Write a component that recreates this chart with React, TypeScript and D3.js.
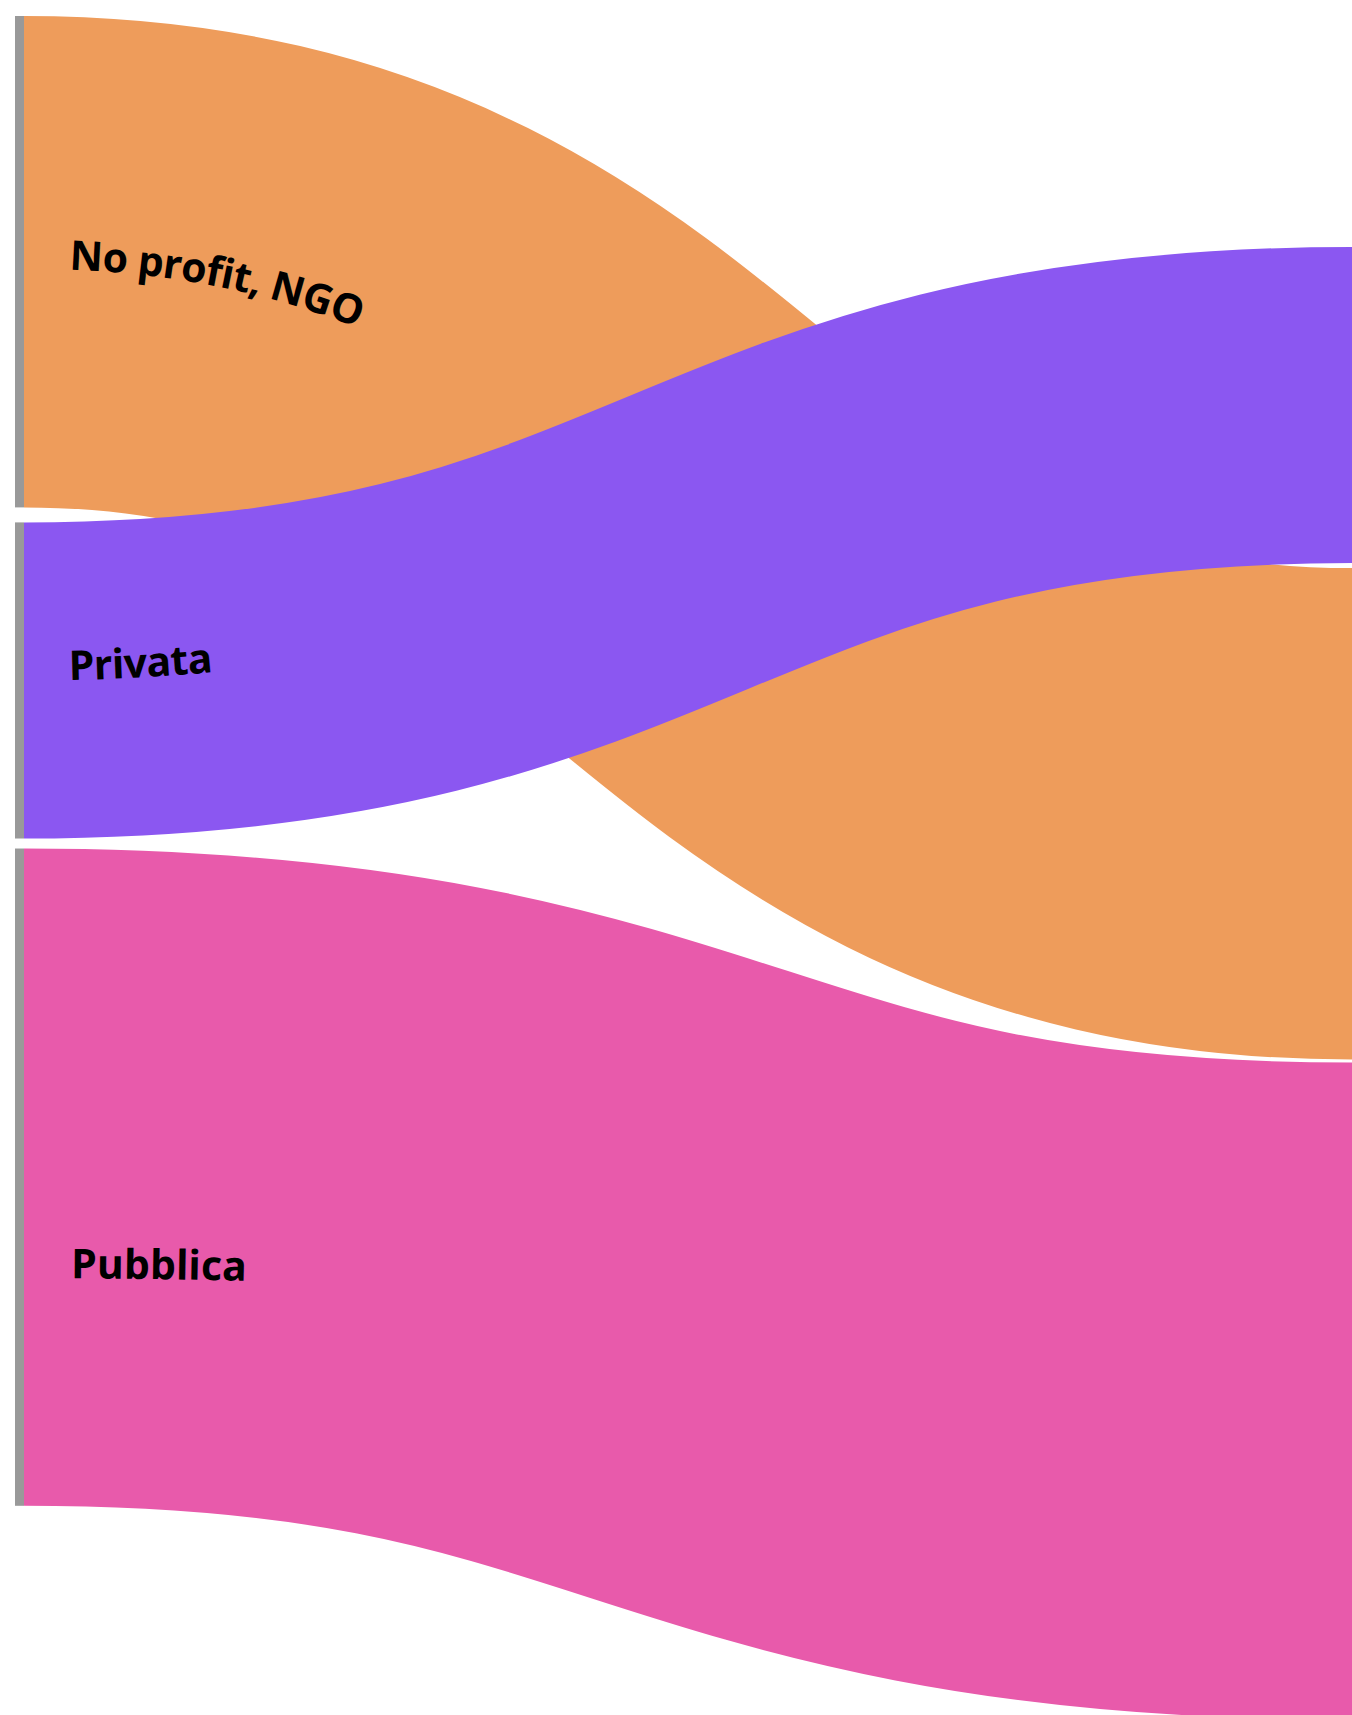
import React from "react";
import * as d3 from "d3";

// ─── Data ─────────────────────────────────────────────────────────────────────
const SOURCES = ["No profit, NGO", "Privata", "Pubblica"];
const VALUES = [157, 101, 210];
// order of the target nodes in the right column (index into SOURCES)
const TARGET_ORDER = [1, 0, 2];
const COLORS = ["#EE9C5B", "#8B57F1", "#E85AAB"];

// ─── Layout tokens ────────────────────────────────────────────────────────────
const WIDTH = 1352;
const HEIGHT = 1715;
const LEFT_X = 15;
const RIGHT_X = 1352;
const NODE_W = 9;
const LEFT_TOP = 16;
const RIGHT_TOP = 247;
const LEFT_GAPS = [15, 10];
const RIGHT_GAPS = [5, 3];
const NODE_FILL = "#999999";
const LABEL_OFFSET = [45, 45, 47];
const LABEL_DY = [7, 0, 101];
const LABEL_BEND = [1, 1, 0.3];
const LABEL_SPACING = [-0.6, -0.5, 0];
const FONT = "'Open Sans', 'Noto Sans', sans-serif";

type Node = { i: number; y0: number; y1: number };

function stack(order: number[], top: number, gaps: number[], h: d3.ScaleLinear<number, number>) {
  const out: Node[] = [];
  let y = top;
  order.forEach((i, k) => {
    const y1 = y + h(VALUES[i]);
    out[i] = { i, y0: y, y1 };
    y = y1 + (gaps[k] ?? 0);
  });
  return out;
}

export default function App() {
  const h = d3.scaleLinear().domain([0, d3.sum(VALUES)]).range([0, 1464.8]);

  const left = stack([0, 1, 2], LEFT_TOP, LEFT_GAPS, h);
  const right = stack(TARGET_ORDER, RIGHT_TOP, RIGHT_GAPS, h);

  const x0 = LEFT_X + NODE_W;
  const x1 = RIGHT_X;

  const link = d3
    .linkHorizontal<[[number, number], [number, number]], [number, number]>()
    .source((d) => d[0])
    .target((d) => d[1]);

  const links = SOURCES.map((_, i) => {
    const sy = (left[i].y0 + left[i].y1) / 2;
    const ty = (right[i].y0 + right[i].y1) / 2;
    return {
      i,
      d: link([[x0, sy], [x1, ty]]) as string,
      width: h(VALUES[i]),
      label: link([
        [x0, sy + LABEL_DY[i]],
        [x1, sy + LABEL_DY[i] + LABEL_BEND[i] * (ty - sy)],
      ]) as string,
    };
  });

  return (
    <svg
      width={WIDTH}
      height={HEIGHT}
      style={{ position: "absolute", left: 0, top: 0, display: "block", fontFamily: FONT }}
    >
      <defs>
        {links.map((l) => (
          <path key={l.i} id={`label-path-${l.i}`} d={l.label} fill="none" />
        ))}
      </defs>

      {/* links (later ones sit on top) */}
      {links.map((l) => (
        <path
          key={l.i}
          d={l.d}
          fill="none"
          stroke={COLORS[l.i]}
          strokeWidth={l.width}
        />
      ))}

      {/* nodes */}
      {left.map((n) => (
        <rect key={`l${n.i}`} x={LEFT_X} y={n.y0} width={NODE_W} height={n.y1 - n.y0} fill={NODE_FILL} />
      ))}
      {right.map((n) => (
        <rect key={`r${n.i}`} x={RIGHT_X} y={n.y0} width={NODE_W} height={n.y1 - n.y0} fill={NODE_FILL} />
      ))}

      {/* labels follow the flow */}
      {links.map((l) => (
        <text
          key={l.i}
          fontSize={41}
          fontWeight={700}
          fill="#000"
          letterSpacing={LABEL_SPACING[l.i]}
        >
          <textPath href={`#label-path-${l.i}`} startOffset={LABEL_OFFSET[l.i]}>
            {SOURCES[l.i]}
          </textPath>
        </text>
      ))}
    </svg>
  );
}
